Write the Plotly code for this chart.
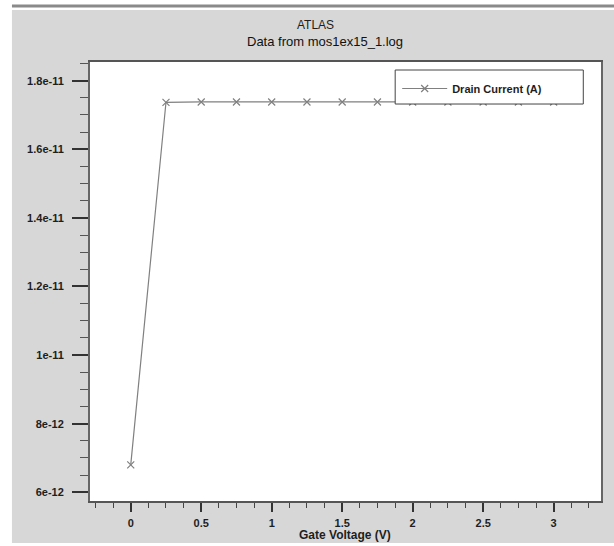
import plotly.graph_objects as go

# ---- data ----
gate_voltage = [0.0, 0.25, 0.5, 0.75, 1.0, 1.25, 1.5, 1.75, 2.0, 2.25, 2.5, 2.75, 3.0]
drain_current = [6.8e-12, 1.737e-11, 1.738e-11, 1.738e-11, 1.738e-11, 1.738e-11, 1.738e-11,
                 1.738e-11, 1.738e-11, 1.738e-11, 1.738e-11, 1.738e-11, 1.738e-11]
series_name = "Drain Current (A)"
y_tick_vals = [6e-12, 8e-12, 1e-11, 1.2e-11, 1.4e-11, 1.6e-11, 1.8e-11]
y_tick_text = ["6e-12", "8e-12", "1e-11", "1.2e-11", "1.4e-11", "1.6e-11", "1.8e-11"]
x_tick_vals = [0, 0.5, 1, 1.5, 2, 2.5, 3]
x_tick_text = ["0", "0.5", "1", "1.5", "2", "2.5", "3"]
title_text = "ATLAS"
subtitle_text = "Data from mos1ex15_1.log"
x_title = "Gate Voltage (V)"

# ---- layout geometry (page pixels; body margin removed via post_script) ----
W, H = 614, 546
L, R, T, B = 90, 600.7, 62, 500.7
pw, ph = R - L, B - T


def px(x):
    return (x - L) / pw


def py(y):
    return (B - y) / ph


FONT = "Liberation Sans"
TXT = "#1e1e1e"
LINE = "#808080"

fig = go.Figure()
fig.add_trace(go.Scatter(
    x=gate_voltage, y=drain_current, name=series_name, mode="lines+markers",
    line=dict(color=LINE, width=1.2),
    marker=dict(symbol="x-thin", size=7, line=dict(color=LINE, width=1.2), color=LINE),
))

fig.update_layout(
    width=W, height=H,
    margin=dict(l=L, r=W - R, t=T, b=H - B, autoexpand=False),
    paper_bgcolor="white", plot_bgcolor="white",
    showlegend=True,
    legend=dict(
        x=px(397), y=py(74), xanchor="left", yanchor="top",
        bgcolor="rgba(0,0,0,0)", borderwidth=0,
        font=dict(family=FONT, size=11, weight="bold", color=TXT),
        itemwidth=45, entrywidth=135, entrywidthmode="pixels",
    ),
    xaxis=dict(
        range=[-0.289, 3.336], tickvals=x_tick_vals, ticktext=x_tick_text,
        ticks="outside", ticklen=9, tickwidth=2, tickcolor="#333",
        minor=dict(dtick=0.125, tick0=0, ticks="outside", ticklen=5, tickwidth=1, tickcolor="#444"),
        showgrid=False, zeroline=False,
        showline=True, linecolor="#555", linewidth=1.5, mirror=True,
        tickfont=dict(family=FONT, size=11, weight="bold", color=TXT),
        ticklabelstandoff=2,
    ),
    yaxis=dict(
        range=[5.746e-12, 1.8545e-11], tickvals=y_tick_vals, ticktext=y_tick_text,
        ticks="outside", ticklen=16, tickwidth=2, tickcolor="#333",
        minor=dict(dtick=5e-13, tick0=6e-12, ticks="outside", ticklen=8, tickwidth=1, tickcolor="#555"),
        showgrid=False, zeroline=False,
        showline=True, linecolor="#666", linewidth=2, mirror=True,
        tickfont=dict(family=FONT, size=11, weight="bold", color=TXT),
        ticklabelstandoff=6,
    ),
    shapes=[
        dict(type="rect", xref="paper", yref="paper", layer="below",
             x0=px(12), x1=px(620), y0=py(542.7), y1=py(10),
             fillcolor="#d7d7d7", line=dict(width=0)),
        dict(type="rect", xref="paper", yref="paper", layer="below",
             x0=0, x1=1, y0=0, y1=1, fillcolor="white", line=dict(width=0)),
        dict(type="line", xref="paper", yref="paper",
             x0=px(12), x1=px(620), y0=py(6), y1=py(6),
             line=dict(color="#8a8a8a", width=3)),
        # legend frame
        dict(type="rect", xref="paper", yref="paper", layer="above",
             x0=px(395), x1=px(583), y0=py(104), y1=py(70),
             fillcolor="white", line=dict(color="#444", width=1)),
    ],
    annotations=[
        dict(text=title_text, xref="paper", yref="paper", x=px(315), y=py(25),
             showarrow=False, xanchor="center", yanchor="middle",
             font=dict(family=FONT, size=12, color=TXT)),
        dict(text=subtitle_text, xref="paper", yref="paper", x=px(325), y=py(41.7),
             showarrow=False, xanchor="center", yanchor="middle",
             font=dict(family=FONT, size=13, color="#111")),
        dict(text=x_title, xref="paper", yref="paper", x=px(345), y=py(535),
             showarrow=False, xanchor="center", yanchor="middle",
             font=dict(family=FONT, size=12, weight="bold", color=TXT)),
    ],
)

fig.write_html(
    "out.html",
    config={"displayModeBar": False},
    post_script="document.body.style.margin='0';document.body.style.overflow='hidden';",
)
